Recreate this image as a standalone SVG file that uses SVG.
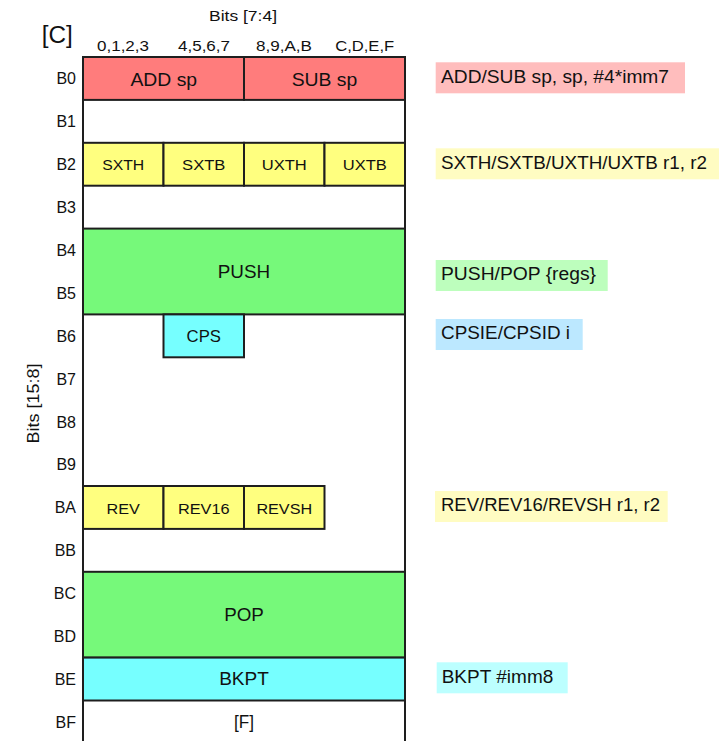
<svg xmlns="http://www.w3.org/2000/svg" width="719" height="741" viewBox="0 0 719 741">
<style>
text{font-family:"Liberation Sans",Arial,Helvetica,sans-serif;fill:#111}
.cell{stroke:#1e1e1e;stroke-width:2}
.red{fill:#FF7C7C}.yel{fill:#FFFF7F}.grn{fill:#76F97A}.cyn{fill:#76FFFF}
.c{text-anchor:middle}
.rl{text-anchor:end;font-size:16px}
.sm{font-size:15.5px}.bg{font-size:18px}.lab{font-size:17.5px}
</style>
<rect width="719" height="741" fill="#fff"/>
<g id="headers">
<text x="41.7" y="42.5" font-size="23" textLength="31" lengthAdjust="spacingAndGlyphs">[C]</text>
<text class="c" x="243" y="20.5" font-size="15" textLength="68" lengthAdjust="spacingAndGlyphs">Bits [7:4]</text>
<text class="c" x="123" y="51" font-size="15.5" textLength="52" lengthAdjust="spacingAndGlyphs">0,1,2,3</text>
<text class="c" x="204" y="51" font-size="15.5" textLength="52" lengthAdjust="spacingAndGlyphs">4,5,6,7</text>
<text class="c" x="284" y="51" font-size="15.5" textLength="56" lengthAdjust="spacingAndGlyphs">8,9,A,B</text>
<text class="c" x="364.7" y="51" font-size="15.5" textLength="59" lengthAdjust="spacingAndGlyphs">C,D,E,F</text>
<text class="c" transform="translate(39,403.4) rotate(-90)" font-size="17" textLength="80" lengthAdjust="spacingAndGlyphs">Bits [15:8]</text>
</g>
<g id="row-labels">
<text class="rl" x="76" y="84.3">B0</text>
<text class="rl" x="76" y="127.2">B1</text>
<text class="rl" x="76" y="170.1">B2</text>
<text class="rl" x="76" y="213">B3</text>
<text class="rl" x="76" y="255.9">B4</text>
<text class="rl" x="76" y="298.8">B5</text>
<text class="rl" x="76" y="341.7">B6</text>
<text class="rl" x="76" y="384.6">B7</text>
<text class="rl" x="76" y="427.5">B8</text>
<text class="rl" x="76" y="470.4">B9</text>
<text class="rl" x="76" y="513.3">BA</text>
<text class="rl" x="76" y="556.2">BB</text>
<text class="rl" x="76" y="599.1">BC</text>
<text class="rl" x="76" y="642">BD</text>
<text class="rl" x="76" y="684.9">BE</text>
<text class="rl" x="76" y="727.8">BF</text>
</g>
<g id="frame">
<path d="M83,760 V57 H405 V760" fill="none" stroke="#1e1e1e" stroke-width="2"/>
</g>
<g id="add-sp"><rect class="cell red" x="83" y="57" width="161" height="42.9"/><text class="c bg" x="163.75" y="85.5" textLength="66.7" lengthAdjust="spacingAndGlyphs">ADD sp</text></g>
<g id="sub-sp"><rect class="cell red" x="244" y="57" width="161" height="42.9"/><text class="c bg" x="324.5" y="85.5" textLength="65.7" lengthAdjust="spacingAndGlyphs">SUB sp</text></g>
<g id="sxth"><rect class="cell yel" x="83" y="142.8" width="80.5" height="42.9"/><text class="c sm" x="123.25" y="169.5" textLength="42" lengthAdjust="spacingAndGlyphs">SXTH</text></g>
<g id="sxtb"><rect class="cell yel" x="163.5" y="142.8" width="80.5" height="42.9"/><text class="c sm" x="203.75" y="169.5" textLength="43.3" lengthAdjust="spacingAndGlyphs">SXTB</text></g>
<g id="uxth"><rect class="cell yel" x="244" y="142.8" width="80.5" height="42.9"/><text class="c sm" x="284.25" y="169.5" textLength="45" lengthAdjust="spacingAndGlyphs">UXTH</text></g>
<g id="uxtb"><rect class="cell yel" x="324.5" y="142.8" width="80.5" height="42.9"/><text class="c sm" x="364.75" y="169.5" textLength="44" lengthAdjust="spacingAndGlyphs">UXTB</text></g>
<g id="push"><rect class="cell grn" x="83" y="228.6" width="322" height="85.8"/><text class="c bg" x="244" y="277.5" textLength="52.4" lengthAdjust="spacingAndGlyphs">PUSH</text></g>
<g id="cps"><rect class="cell cyn" x="163.5" y="314.4" width="80.5" height="42.9"/><text class="c" x="203.75" y="341.7" font-size="16.5" textLength="34.3" lengthAdjust="spacingAndGlyphs">CPS</text></g>
<g id="rev"><rect class="cell yel" x="83" y="486" width="80.5" height="42.9"/><text class="c sm" x="123.25" y="513.7" textLength="33.3" lengthAdjust="spacingAndGlyphs">REV</text></g>
<g id="rev16"><rect class="cell yel" x="163.5" y="486" width="80.5" height="42.9"/><text class="c sm" x="203.75" y="513.7" textLength="51.7" lengthAdjust="spacingAndGlyphs">REV16</text></g>
<g id="revsh"><rect class="cell yel" x="244" y="486" width="80.5" height="42.9"/><text class="c sm" x="284.25" y="513.7" textLength="55.7" lengthAdjust="spacingAndGlyphs">REVSH</text></g>
<g id="pop"><rect class="cell grn" x="83" y="571.8" width="322" height="85.8"/><text class="c bg" x="244" y="621" textLength="39.7" lengthAdjust="spacingAndGlyphs">POP</text></g>
<g id="bkpt"><rect class="cell cyn" x="83" y="657.6" width="322" height="42.9"/><text class="c bg" x="244" y="685" textLength="49.7" lengthAdjust="spacingAndGlyphs">BKPT</text></g>
<g id="f-slot"><text class="c bg" x="244" y="728.3" textLength="20" lengthAdjust="spacingAndGlyphs">[F]</text></g>
<g id="legend-addsub"><rect x="435.7" y="62.3" width="249.3" height="31" fill="#FFBDBD"/><text class="lab" x="441" y="82.5" textLength="228" lengthAdjust="spacingAndGlyphs">ADD/SUB sp, sp, #4*imm7</text></g>
<g id="legend-ext"><rect x="435.7" y="148.3" width="283.3" height="31" fill="#FFFCC2"/><text class="lab" x="441" y="168.5" textLength="266" lengthAdjust="spacingAndGlyphs">SXTH/SXTB/UXTH/UXTB r1, r2</text></g>
<g id="legend-pushpop"><rect x="435.7" y="260" width="172" height="31" fill="#BDFEBD"/><text class="lab" x="441" y="280.2" textLength="155" lengthAdjust="spacingAndGlyphs">PUSH/POP {regs}</text></g>
<g id="legend-cps"><rect x="435.7" y="319" width="147" height="31" fill="#BCE8FF"/><text class="lab" x="441" y="339.2" textLength="129" lengthAdjust="spacingAndGlyphs">CPSIE/CPSID i</text></g>
<g id="legend-rev"><rect x="435" y="491" width="232.7" height="31" fill="#FFFCC2"/><text class="lab" x="441" y="511.2" textLength="219" lengthAdjust="spacingAndGlyphs">REV/REV16/REVSH r1, r2</text></g>
<g id="legend-bkpt"><rect x="436.7" y="662.3" width="131" height="31" fill="#BCFFFF"/><text class="lab" x="441.7" y="682.5" textLength="111.6" lengthAdjust="spacingAndGlyphs">BKPT #imm8</text></g>
<g id="connectors"></g>
</svg>
